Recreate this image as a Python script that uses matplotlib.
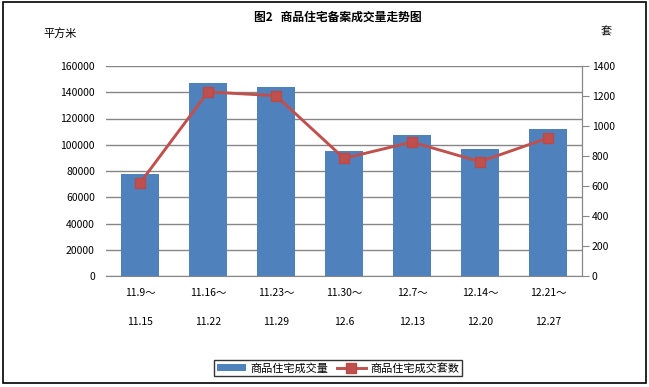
#!/usr/bin/env python3
"""Weekly residential filings: area (bars) and units (line)."""

import matplotlib

matplotlib.use("Agg")
import matplotlib.pyplot as plt
from matplotlib.patches import Rectangle

plt.rcParams["font.family"] = ["Noto Sans CJK SC", "DejaVu Sans"]

WEEK_START = ["11.9～", "11.16～", "11.23～", "11.30～", "12.7～", "12.14～", "12.21～"]
WEEK_END = ["11.15", "11.22", "11.29", "12.6", "12.13", "12.20", "12.27"]
AREA_SQM = [77600, 147000, 144000, 95000, 107500, 96800, 112000]
UNITS = [620, 1227, 1202, 784, 893, 762, 920]

BAR_COLOR = "#4F81BD"
LINE_COLOR = "#C0504D"
GRID_COLOR = "#868686"

W, H = 649, 387


def main() -> None:
    fig = plt.figure(figsize=(W / 100, H / 100), dpi=100)
    # outer chart frame
    fig.patches.append(Rectangle((2.5 / W, (H - 382.5) / H), 643.5 / W, 381 / H,
                                 transform=fig.transFigure, fill=False,
                                 edgecolor="black", linewidth=1.2))

    ax = fig.add_axes([106 / W, (H - 276) / H, (582 - 106) / W, 210 / H])
    x = list(range(len(WEEK_START)))
    ax.bar(x, AREA_SQM, width=0.56, color=BAR_COLOR, zorder=2,
           label="商品住宅成交量")
    ax.set_xlim(-0.5, len(x) - 0.5)
    ax.set_ylim(0, 160000)
    ax.set_yticks(range(0, 160001, 20000))
    ax.grid(axis="y", color=GRID_COLOR, linewidth=1.0, zorder=0)
    ax.tick_params(axis="y", length=0, pad=8, labelsize=7.5)
    ax.set_xticks(x)
    ax.set_xticklabels([f"{a}\n\n{b}" for a, b in zip(WEEK_START, WEEK_END)],
                       fontsize=7.5, linespacing=1.55)
    ax.tick_params(axis="x", length=0, pad=9)
    for side in ("left", "top"):
        ax.spines[side].set_visible(False)
    ax.spines["bottom"].set_color(GRID_COLOR)
    ax.spines["right"].set_color(GRID_COLOR)

    ax2 = ax.twinx()
    ax2.plot(x, UNITS, color=LINE_COLOR, linewidth=2.1, marker="s",
             markersize=7, markerfacecolor=LINE_COLOR, markeredgecolor="#B84A47",
             zorder=3, label="商品住宅成交套数")
    ax2.set_ylim(0, 1400)
    ax2.set_yticks(range(0, 1401, 200))
    ax2.tick_params(axis="y", length=5, color=GRID_COLOR, pad=2, labelsize=7.5)
    for side in ("left", "top", "bottom"):
        ax2.spines[side].set_visible(False)
    ax2.spines["right"].set_color(GRID_COLOR)

    fig.text(338 / W, 1 - 17 / H, "图2   商品住宅备案成交量走势图", ha="center",
             va="center", fontsize=8.5, fontweight="bold")
    fig.text(60 / W, 1 - 33 / H, "平方米", ha="center", va="center", fontsize=8)
    fig.text(606 / W, 1 - 32 / H, "套", ha="center", va="center", fontsize=8)

    h1, l1 = ax.get_legend_handles_labels()
    h2, l2 = ax2.get_legend_handles_labels()
    leg = fig.legend(h1 + h2, l1 + l2, loc="center", ncol=2,
                     bbox_to_anchor=(338 / W, 1 - 368 / H), fontsize=8,
                     frameon=True, fancybox=False, borderpad=0.25,
                     handlelength=2.6, handletextpad=0.4, columnspacing=0.8)
    leg.get_frame().set_edgecolor("black")
    leg.get_frame().set_linewidth(1.0)

    fig.savefig("out.png", dpi=100)
    plt.close(fig)


if __name__ == "__main__":
    main()
